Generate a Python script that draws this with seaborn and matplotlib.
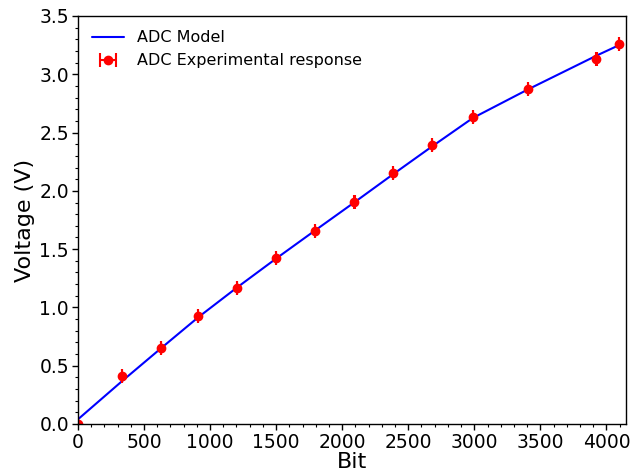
import numpy as np
import pandas as pd
import matplotlib
matplotlib.use("Agg")
import matplotlib.pyplot as plt
import seaborn as sns
from matplotlib.ticker import AutoMinorLocator

# Experimental ADC response
exp_bits = [0, 336, 629, 910, 1203, 1501, 1797, 2093, 2386, 2679, 2989, 3406, 3925, 4096]
exp_volts = [0.0, 0.41, 0.655, 0.926, 1.169, 1.421, 1.658, 1.902, 2.151, 2.391, 2.631, 2.871, 3.131, 3.262]
exp_bit_err = [1] * len(exp_bits)

# ADC model curve
model_bits = [0, 336, 629, 910, 1203, 1501, 1797, 2093, 2386, 2679, 2989, 3406, 3925, 4096]
model_volts = [0.04, 0.37, 0.65, 0.915, 1.17, 1.42, 1.662, 1.902, 2.143, 2.38, 2.625, 2.87, 3.16, 3.25]

sns.set_theme(style="ticks")
plt.rcParams["font.family"] = ["DejaVu Sans"]
plt.rcParams["text.color"] = "black"
plt.rcParams["axes.labelcolor"] = "black"
plt.rcParams["xtick.color"] = "black"
plt.rcParams["ytick.color"] = "black"

fig = plt.figure(figsize=(6.39, 4.73), dpi=100)
ax = fig.add_axes([0.122, 0.1036, 0.858, 0.8626])

model_df = pd.DataFrame({"Bit": model_bits, "Voltage": model_volts})
sns.lineplot(data=model_df, x="Bit", y="Voltage", ax=ax, color="#0000ff",
             linewidth=1.5, label="ADC Model")
ax.errorbar(exp_bits, exp_volts, xerr=exp_bit_err, fmt="o", color="red",
            ecolor="red", markersize=6, capsize=5, elinewidth=1.5, capthick=1.5,
            label="ADC Experimental response")

ax.set_xlim(0, 4150)
ax.set_ylim(0, 3.5)
ax.set_xlabel("Bit", fontsize=16, labelpad=0, color="black")
ax.set_ylabel("Voltage (V)", fontsize=16, labelpad=3, color="black")
ax.xaxis.set_minor_locator(AutoMinorLocator(5))
ax.yaxis.set_minor_locator(AutoMinorLocator(5))
ax.tick_params(axis="both", which="major", labelsize=13.5, direction="out",
               length=4, width=1, colors="black", pad=2.5)
ax.tick_params(axis="both", which="minor", direction="out", length=2.5, width=0.8,
               colors="black")
for s in ax.spines.values():
    s.set_visible(True)
    s.set_color("black")
    s.set_linewidth(1)

leg = ax.legend(loc="upper left", frameon=False, fontsize=11.5)
for t in leg.get_texts():
    t.set_color("black")

fig.savefig("out.png", dpi=100)
